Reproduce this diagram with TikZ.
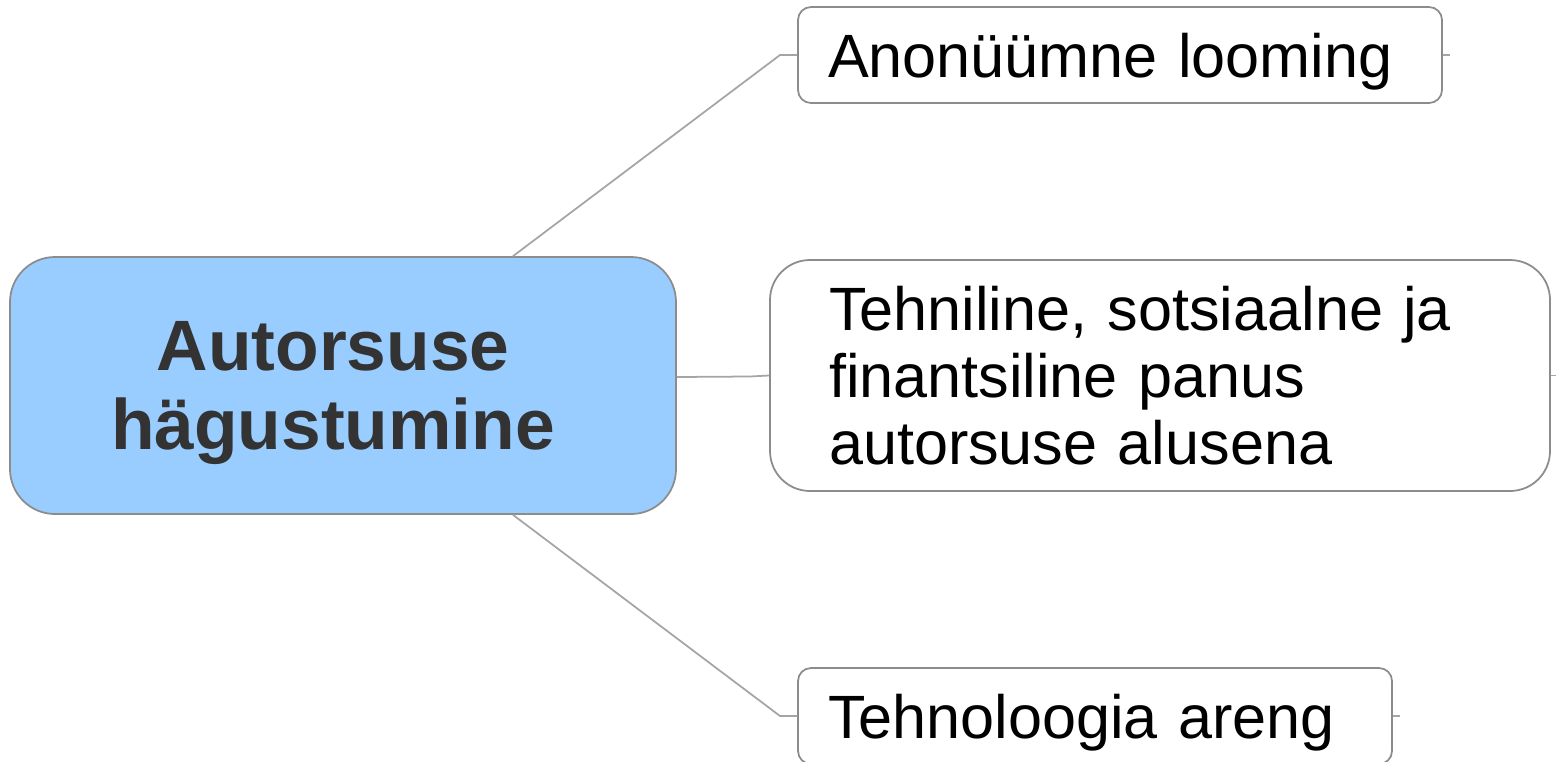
\documentclass[tikz,border=0pt]{standalone}
\usepackage{fontspec}
\setmainfont{Liberation Sans}
\usepackage{tikz}
\usetikzlibrary{calc}
\usetikzlibrary{positioning}
\definecolor{skyblue}{RGB}{153, 204, 255}
\definecolor{ashgray}{RGB}{140, 140, 140}
\definecolor{linegray}{RGB}{165, 165, 165}
\definecolor{charcoal}{RGB}{51, 51, 51}

\begin{document}
\begin{tikzpicture}[
        hubbox/.style  ={draw=ashgray, line width=0.5pt, fill=skyblue, rounded corners=4.5mm,
                         minimum width=6.66cm, minimum height=2.57cm, align=center, text depth=0pt,
                         text=charcoal, font=\fontsize{20.3}{22.5}\selectfont\bfseries},
        topicbox/.style={draw=ashgray, line width=0.5pt, fill=white, rounded corners=1.3mm,
                         inner xsep=0.30cm, align=left,
                         font=\fontsize{17.4}{19.1}\selectfont},
        link/.style    ={draw=linegray, line width=0.5pt}
    ]
            \useasboundingbox                                      (0.00, 0.00) rectangle (15.56, 7.61);
            \clip                                                  (0.00, 0.00) rectangle (15.56, 7.61);
            % central topic
            \node[hubbox]                                  (hub)   at ( 3.43, 3.755) {Autorsuse\hspace*{0.2cm}\\hägustumine\hspace*{0.2cm}};
            % branches
            \node[topicbox, text width=5.84cm, minimum height=0.96cm, text depth=0pt] (anon)  at (11.20, 7.06)  {Anonüümne looming};
            \node[topicbox, text width=6.62cm, minimum height=2.31cm,
                  inner xsep=0.59cm, rounded corners=4mm]                (basis) at (11.60, 3.855) {Tehniline, sotsiaalne ja\\finantsiline panus\\autorsuse alusena};
            \node[topicbox, text width=5.34cm, minimum height=0.96cm, text depth=0pt] (tech)  at (10.95, 0.45)  {Tehnoloogia areng};
            % bends and loose ends
            \coordinate (kneeA) at ( 7.80, 7.06);
            \coordinate (kneeB) at ( 7.50, 3.845);
            \coordinate (kneeC) at ( 7.80, 0.45);
            \coordinate (tailA) at ($(anon.east)+(0.07,0)$);
            \coordinate (tailB) at ($(basis.east)+(0.07,0)$);
            \coordinate (tailC) at ($(tech.east)+(0.07,0)$);
            \draw[link] ($(hub.north)+(1.70,0)$)   -- (kneeA) -- (anon.west);
            \draw[link] ($(hub.east)+(0,0.085)$)   -- (kneeB) -- (basis.west);
            \draw[link] ($(hub.south)+(1.70,0)$)   -- (kneeC) -- (tech.west);
            \draw[link] (anon.east)  -- (tailA);
            \draw[link] (basis.east) -- (tailB);
            \draw[link] (tech.east)  -- (tailC);
        \end{tikzpicture}
\end{document}
